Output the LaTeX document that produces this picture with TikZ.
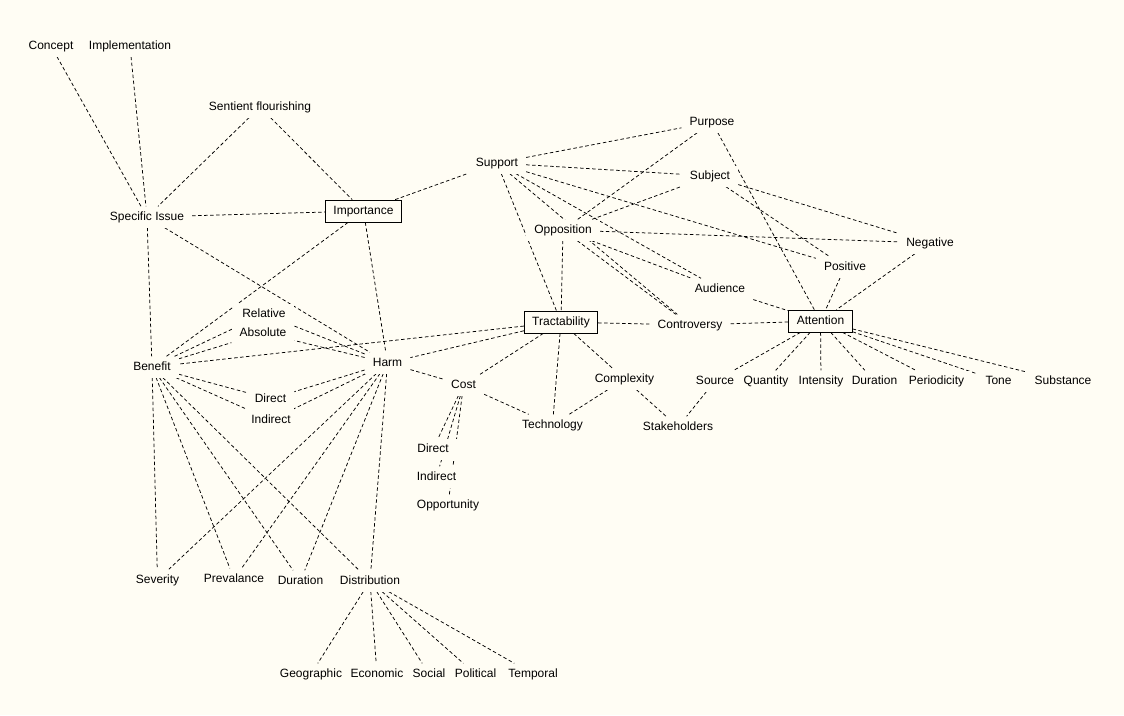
\documentclass[tikz,border=0pt]{standalone}
\usepackage{fontspec}
\setmainfont{Liberation Sans}
\pgfdeclarelayer{bgfill}
\pgfdeclarelayer{edges}
\pgfsetlayers{bgfill,edges,main}
\definecolor{bgc}{HTML}{FFFDF4}
\tikzset{
  lab/.style={fill=bgc, inner xsep=8pt, inner ysep=5pt, text height=8.5pt, text depth=2.5pt, font=\fontsize{12}{14}\selectfont},
  boxed/.style={lab, draw=black, line width=0.8pt, inner ysep=5.5pt},
  edge/.style={draw=black, line width=0.75pt, dash pattern=on 3.5pt off 2.5pt}
}
\begin{document}
\begin{tikzpicture}[x=1pt,y=1pt]
\begin{pgfonlayer}{bgfill}
\fill[bgc] (0,0) rectangle (1124,-715);
\end{pgfonlayer}
\useasboundingbox (0,0) rectangle (1124,-715);
% top-left
\node[lab] (concept) at (51,-46) {Concept};
\node[lab] (impl) at (130,-46) {Implementation};
\node[lab] (sentient) at (260,-107) {Sentient flourishing};
\node[lab] (specific) at (147,-217) {Specific Issue};
\node[boxed] (importance) at (363.5,-211) {Importance};
% middle
\node[lab] (support) at (497,-163) {Support};
\node[lab] (purpose) at (712,-122) {Purpose};
\node[lab] (subject) at (710,-176) {Subject};
\node[lab] (opposition) at (563,-230) {Opposition};
\node[lab] (negative) at (930,-243) {Negative};
\node[lab] (positive) at (845,-267) {Positive};
\node[lab] (audience) at (720,-289) {Audience};
\node[boxed] (tract) at (561,-322) {Tractability};
\node[lab] (controversy) at (690,-325) {Controversy};
\node[boxed] (attention) at (820.5,-321) {Attention};
% attention children
\node[lab] (source) at (715,-381) {Source};
\node[lab] (quantity) at (766,-381) {Quantity};
\node[lab] (intensity) at (821,-381) {Intensity};
\node[lab] (durationA) at (874.5,-381) {Duration};
\node[lab] (periodicity) at (936.5,-381) {Periodicity};
\node[lab] (tone) at (998.5,-381) {Tone};
\node[lab] (substance) at (1063,-381) {Substance};
% tractability children
\node[lab] (complexity) at (624.5,-379) {Complexity};
\node[lab] (technology) at (552.5,-425) {Technology};
\node[lab] (stakeholders) at (678,-427) {Stakeholders};
\node[lab] (cost) at (463.5,-385) {Cost};
\node[lab] (directC) at (433,-449) {Direct};
\node[lab] (indirectC) at (436.5,-477) {Indirect};
\node[lab] (opportunity) at (448,-505) {Opportunity};
% benefit / harm
\node[lab] (relative) at (264,-314) {Relative};
\node[lab] (absolute) at (263,-333) {Absolute};
\node[lab] (benefit) at (152,-367) {Benefit};
\node[lab] (harm) at (387.5,-363) {Harm};
\node[lab] (directB) at (270.5,-399) {Direct};
\node[lab] (indirectB) at (271,-420) {Indirect};
% bottom
\node[lab] (severity) at (157.5,-580) {Severity};
\node[lab] (prevalance) at (234,-579) {Prevalance};
\node[lab] (durationB) at (300.5,-581) {Duration};
\node[lab] (distribution) at (370,-581) {Distribution};
\node[lab] (geographic) at (311,-674) {Geographic};
\node[lab] (economic) at (377,-674) {Economic};
\node[lab] (social) at (429,-674) {Social};
\node[lab] (political) at (475.5,-674) {Political};
\node[lab] (temporal) at (533,-674) {Temporal};
\begin{pgfonlayer}{edges}
\foreach \a/\b in {concept/specific, impl/specific, sentient/specific, sentient/importance,
  specific/importance, specific/benefit, specific/harm,
  importance/support, importance/benefit, importance/harm,
  support/purpose, support/subject, support/tract, support/controversy, support/audience, support/positive,
  opposition/purpose, opposition/subject, opposition/negative, opposition/audience, opposition/controversy, opposition/tract,
  subject/positive, subject/negative,
  purpose/attention, positive/attention, negative/attention, audience/attention, controversy/attention, tract/controversy,
  attention/source, attention/quantity, attention/intensity, attention/durationA, attention/periodicity, attention/tone, attention/substance,
  source/stakeholders, complexity/stakeholders, complexity/technology,
  tract/complexity, tract/technology, tract/cost, tract/benefit, tract/harm,
  benefit/relative, benefit/absolute, harm/relative, harm/absolute,
  benefit/directB, benefit/indirectB, harm/directB, harm/indirectB,
  harm/cost, cost/technology, cost/directC, cost/indirectC, cost/opportunity,
  benefit/severity, benefit/prevalance, benefit/durationB, benefit/distribution,
  harm/severity, harm/prevalance, harm/durationB, harm/distribution,
  distribution/geographic, distribution/economic, distribution/social, distribution/political, distribution/temporal}
  \draw[edge] (\a) -- (\b);
\end{pgfonlayer}
\end{tikzpicture}
\end{document}
